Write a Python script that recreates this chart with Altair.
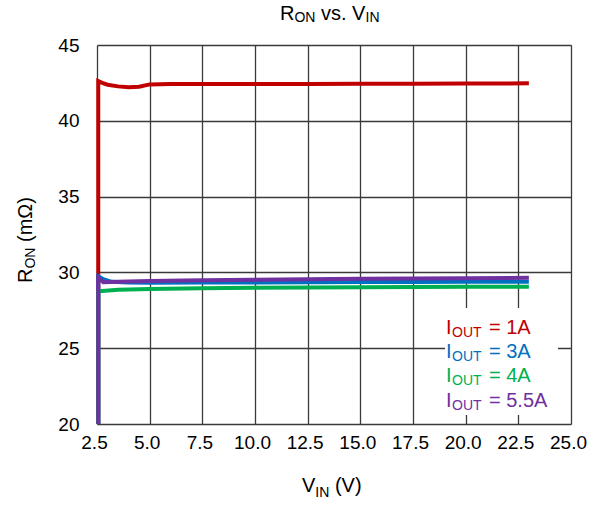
import altair as alt
import pandas as pd

# R_ON measurements per load current (V_IN in volts, R_ON in milliohms)
vin_1a = [2.56, 2.56, 2.75, 3.0, 3.5, 4.0, 4.5, 5.0, 6.0, 7.5, 10.0, 12.5, 15.0, 17.5, 20.0, 23.0]
ron_1a = [20.0, 42.62, 42.5, 42.38, 42.27, 42.21, 42.25, 42.4, 42.42, 42.42, 42.42, 42.43, 42.44, 42.45, 42.46, 42.47]

vin_3a = [2.56, 2.56, 2.8, 3.2, 4.0, 5.0, 7.5, 10.0, 12.5, 15.0, 17.5, 20.0, 23.0]
ron_3a = [20.0, 29.75, 29.55, 29.38, 29.33, 29.32, 29.33, 29.34, 29.35, 29.36, 29.37, 29.38, 29.39]

vin_4a = [2.56, 2.56, 2.75, 3.5, 5.0, 7.5, 10.0, 12.5, 15.0, 17.5, 20.0, 23.0]
ron_4a = [20.0, 28.75, 28.78, 28.85, 28.9, 28.95, 28.98, 29.0, 29.02, 29.03, 29.05, 29.06]

vin_55a = [2.56, 2.56, 2.8, 3.5, 5.0, 7.5, 10.0, 12.5, 15.0, 17.5, 20.0, 23.0]
ron_55a = [20.0, 29.65, 29.35, 29.38, 29.43, 29.48, 29.52, 29.55, 29.58, 29.6, 29.62, 29.64]

series_names = ["1A", "3A", "4A", "5.5A"]
series_colors = ["#C00000", "#0070C0", "#00B050", "#7030A0"]
x_ticks = [2.5, 5.0, 7.5, 10.0, 12.5, 15.0, 17.5, 20.0, 22.5, 25.0]
y_ticks = [20, 25, 30, 35, 40, 45]

rows = []
for name, xs, ys in zip(series_names,
                        [vin_1a, vin_3a, vin_4a, vin_55a],
                        [ron_1a, ron_3a, ron_4a, ron_55a]):
    for i, (xv, yv) in enumerate(zip(xs, ys)):
        rows.append({"series": name, "vin": xv, "ron": yv, "idx": i})
df = pd.DataFrame(rows)

W, H = 474, 379
FONT = "Liberation Sans"
TICK = 19
MAIN = 20
SUB = 14

lines = alt.Chart(df).mark_line(strokeWidth=4, clip=False).encode(
    x=alt.X("vin:Q", scale=alt.Scale(domain=[2.5, 25.0], nice=False),
            axis=alt.Axis(values=x_ticks, format=".1f", title=None, grid=True,
                          ticks=False, domain=False, labelPadding=9, labelOffset=-3,
                          labelFontSize=TICK, labelFont=FONT, labelColor="#000",
                          gridColor="#3a3a3a", gridWidth=1.3, labelFlush=False)),
    y=alt.Y("ron:Q", scale=alt.Scale(domain=[20, 45], nice=False),
            axis=alt.Axis(values=y_ticks, title=None, grid=True, ticks=False,
                          domain=False, labelPadding=18, labelFontSize=TICK,
                          labelFont=FONT, labelColor="#000",
                          gridColor="#3a3a3a", gridWidth=1.3, labelFlush=False)),
    color=alt.Color("series:N", scale=alt.Scale(domain=series_names, range=series_colors),
                    legend=None),
    order=alt.Order("idx:Q"),
    detail="series:N",
)

# white backing box behind the in-plot legend
legend_box = alt.Chart(pd.DataFrame({"a": [0]})).mark_rect(color="white").encode(
    x=alt.value(348), x2=alt.value(461), y=alt.value(263), y2=alt.value(370)
)


def txt(text, x, y, size, color="#000", angle=0):
    props = dict(align="left", baseline="alphabetic", font=FONT, fontSize=size, color=color)
    if angle:
        props["angle"] = angle
    return alt.Chart(pd.DataFrame({"t": [text]})).mark_text(**props).encode(
        text="t:N", x=alt.value(x), y=alt.value(y)
    )


layers = [lines, legend_box]

# legend entries: "I" + subscript "OUT" + value
row_base = [289, 313, 337, 361.5]
for name, color, yb in zip(series_names, series_colors, row_base):
    layers.append(txt("I", 349, yb, MAIN, color))
    layers.append(txt("OUT", 355, yb + 3, SUB, color))
    layers.append(txt("= " + name, 392, yb, MAIN, color))

# chart title: R_ON vs. V_IN
layers += [
    txt("R", 183, -25, MAIN),
    txt("ON", 197.4, -23.5, SUB),
    txt("vs. V", 224, -25, MAIN),
    txt("IN", 268.5, -23.5, SUB),
]

# x-axis title: V_IN (V)
layers += [
    txt("V", 205, 447, MAIN),
    txt("IN", 218.3, 451.5, SUB),
    txt("(V)", 237.9, 447, MAIN),
]

# y-axis title: R_ON (mΩ), rotated
layers += [
    txt("R", -65, 238, MAIN, angle=270),
    txt("ON", -62, 223.6, SUB, angle=270),
    txt("(mΩ)", -65, 197, MAIN, angle=270),
]

chart = alt.layer(*layers).properties(
    width=W, height=H,
    autosize=alt.AutoSizeParams(type="none"),
    padding={"left": 97, "top": 45, "right": 19, "bottom": 81},
).configure_view(stroke="#000", strokeWidth=2.2).configure(background="white")

chart.save("out.html", embed_options={"renderer": "svg", "actions": False})
